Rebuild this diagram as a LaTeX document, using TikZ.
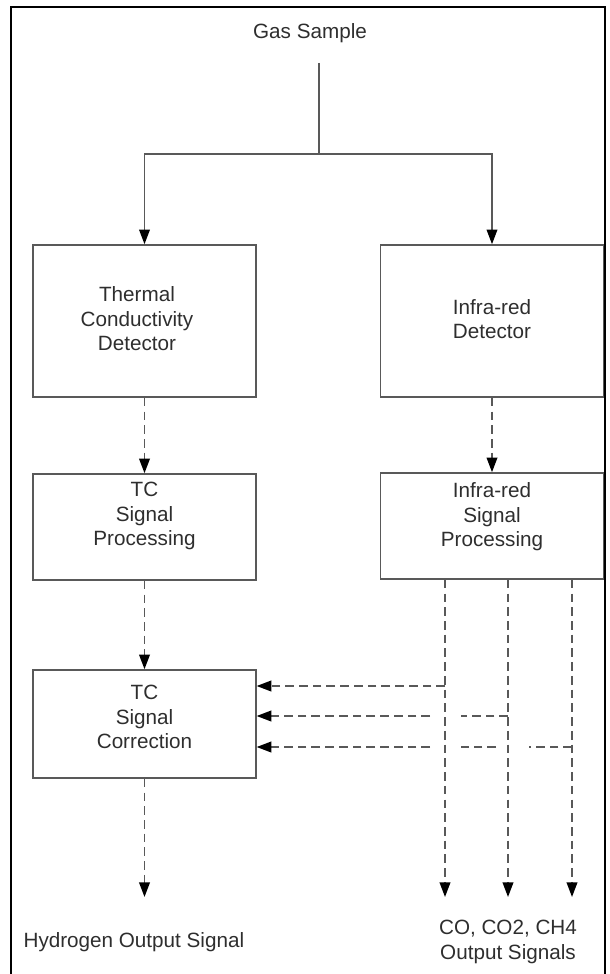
\documentclass[tikz,border=0pt]{standalone}
\usepackage{fontspec}
\setmainfont{Liberation Sans}
\usetikzlibrary{arrows.meta}

\begin{document}
\begin{tikzpicture}[x=0.75pt,y=-0.75pt,line join=miter,
  blk/.style={draw=black!65,line width=1.2pt,minimum width=167pt,inner sep=0pt},
  txt/.style={align=center,text=black!82,font=\fontsize{15.5}{18.4}\selectfont,inner sep=1pt},
  wire/.style={draw=black!65,line width=1.2pt},
  flow/.style={wire,-{Triangle[length=11pt,width=8pt,color=black]}},
  sig/.style={flow,line width=1.3pt,dash pattern=on 6.5pt off 3.8pt}]
  \useasboundingbox (0,0) rectangle (610,974);
  \draw[line width=1.6pt] (11,974) -- (11,7) -- (605,7) -- (605,974);
  % boxes
  \node[blk,minimum height=114pt] (tcd) at (144.5,321) {};
  \node[blk,minimum height=114pt] (ird) at (492,321) {};
  \node[blk,minimum height=79.5pt] (tcsp) at (144.5,527) {};
  \node[blk,minimum height=79.5pt] (irsp) at (492,526) {};
  \node[blk,minimum height=81pt] (tcsc) at (144.5,724) {};
  % texts
  \node[txt] (gas) at (310,33) {Gas Sample};
  \node[txt] (tcdtxt) at (137,319) {Thermal\\Conductivity\\Detector};
  \node[txt] (irdtxt) at (492,319) {Infra-red\\Detector};
  \node[txt] (tcsptxt) at (144.5,516) {TC\\Signal\\Processing};
  \node[txt] (irsptxt) at (492,517) {Infra-red\\Signal\\Processing};
  \node[txt] (tcsctxt) at (144.5,717) {TC\\Signal\\Correction};
  \node[txt,anchor=west] (hyd) at (22,942) {Hydrogen Output Signal};
  \node[txt] (gases) at (508,942) {CO, CO2, CH4\\Output Signals};
  % sample feed
  \coordinate (feed) at (319,63);
  \coordinate (split) at (319,154);
  \draw[wire] (feed) -- (split);
  \draw[flow] (split) -| (tcd.north);
  \draw[flow] (split) -| (ird.north);
  % signal chain
  \draw[sig] (tcd.south) -- (tcsp.north);
  \draw[sig] (ird.south) -- (irsp.north);
  \draw[sig] (tcsp.south) -- (tcsc.north);
  \coordinate (hend) at (144.5,897);
  \draw[sig] (tcsc.south) -- (hend);
  \foreach \n/\x/\y in {1/445/686,2/508/716,3/572/747} {
    \coordinate (out\n) at (\x,897);
    \coordinate (tap\n) at (\x,\y);
    \draw[sig] (irsp.south -| out\n) -- (out\n);
  }
  % corrections
  \draw[sig] (tap1) -- (tcsc.east |- tap1);
  \draw[sig] (tap2) -- ++(-47,0) ++(-31,0) -- (tcsc.east |- tap2);
  \draw[sig] (tap3) -- ++(-43,0) ++(-33,0) -- ++(-35,0) ++(-31,0) -- (tcsc.east |- tap3);
\end{tikzpicture}
\end{document}
